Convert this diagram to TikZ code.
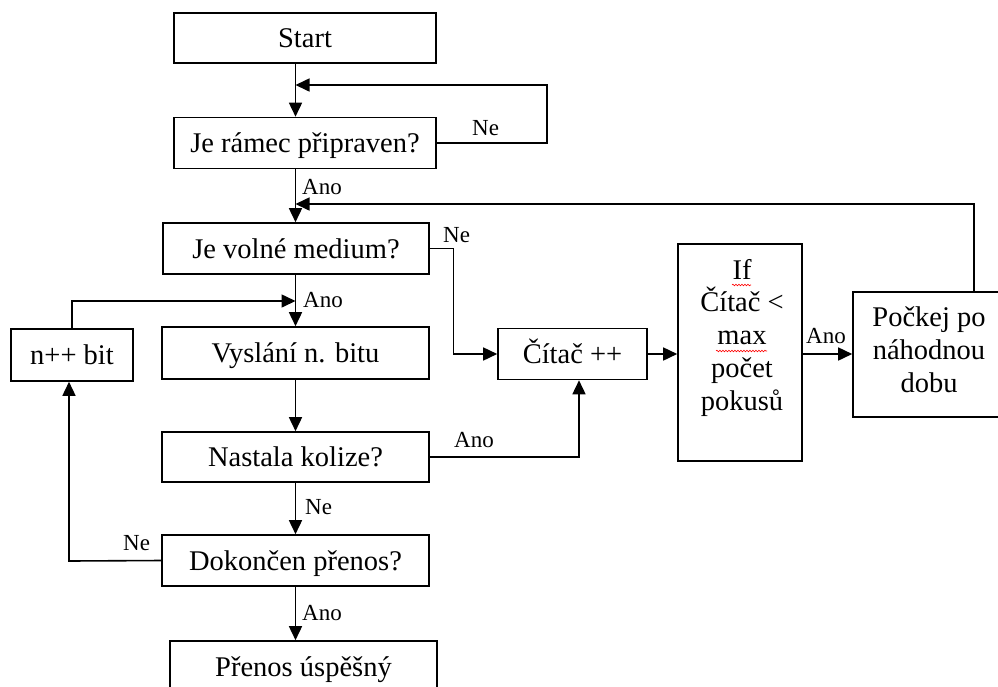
\documentclass[tikz,border=0pt]{standalone}
\usepackage{fontspec}
\setmainfont{Liberation Serif}
\usetikzlibrary{arrows.meta,decorations.pathmorphing}
\newcommand{\boxfont}{\fontsize{28.5}{32.75}\selectfont}
\newcommand{\labfont}{\fontsize{23}{27}\selectfont}
\begin{document}
\begin{tikzpicture}[x=1pt,y=-1pt,
  box/.style={draw, line width=1.6pt, rectangle, inner sep=0pt, font=\boxfont, text height=24.2pt, text depth=5.2pt},
  txt/.style={font=\boxfont, align=center, inner sep=0pt, anchor=base},
  arr/.style={line width=1.6pt, -{Triangle[length=14pt,width=13pt]}},
  lab/.style={font=\labfont, inner sep=0pt, anchor=west},
  squig/.style={red, line width=0.6pt, decorate, decoration={snake, amplitude=0.8pt, segment length=3pt}}]
\fill[white] (0,0) rectangle (998,686);
\useasboundingbox (0,0) rectangle (998,686);
% boxes
\node[box, minimum width=262pt, minimum height=50pt] (start) at (305,38) {Start};
\node[box, minimum width=262pt, minimum height=51pt] (ramec) at (305,143) {Je rámec připraven?};
\node[box, minimum width=266pt, minimum height=51pt] (medium) at (296,248.5) {Je volné medium?};
\node[box, minimum width=267pt, minimum height=52pt] (vyslani) at (295.5,353) {Vyslání n. bitu};
\node[box, minimum width=267pt, minimum height=50pt] (kolize) at (295.5,457) {Nastala kolize?};
\node[box, minimum width=267pt, minimum height=51pt] (dokoncen) at (295.5,560.5) {Dokončen přenos?};
\node[box, minimum width=267pt, minimum height=51pt] (prenos) at (303.5,666.5) {Přenos úspěšný};
\node[box, minimum width=122pt, minimum height=52pt] (nbit) at (72,355) {n++ bit};
\node[box, minimum width=149pt, minimum height=51pt] (citac) at (572.5,354) {Čítač ++};
\node[box, minimum width=124pt, minimum height=217pt] (ifbox) at (740,352.5) {};
\node[box, minimum width=152pt, minimum height=125pt] (pockej) at (929,354.5) {};
\node[txt] (iftext) at (742,410) {If\\Čítač <\\max\\počet\\pokusů};
\node[txt] (pocktext) at (929,392) {Počkej po\\náhodnou\\dobu};
% spell-check marks
\draw[squig] (732,285) -- (751,285);
\draw[squig] (716,351) -- (767,351);
% labels
\node[lab] (l1) at (472,128) {Ne};
\node[lab] (l2) at (302,187) {Ano};
\node[lab] (l3) at (443,235) {Ne};
\node[lab] (l4) at (303,300) {Ano};
\node[lab] (l5) at (454,440) {Ano};
\node[lab] (l6) at (806,336) {Ano};
\node[lab] (l7) at (305,507) {Ne};
\node[lab] (l8) at (123,543) {Ne};
\node[lab] (l9) at (302,613) {Ano};
% connectors
\coordinate (col) at (295.5,0);
\draw[arr] (start.south -| col) -- (ramec.north -| col);
\coordinate (loopR) at (547,85);
\draw[arr] (ramec.east) -| (loopR) -- (loopR -| col);
\draw[arr] (ramec.south -| col) -- (medium.north -| col);
\coordinate (topR) at (974,204);
\draw[arr] (pockej.north -| topR) -- (topR) -- (topR -| col);
\draw[arr] (medium.south -| col) -- (vyslani.north -| col);
\coordinate (j1) at (295.5,301);
\draw[arr] (nbit.north) |- (j1);
\coordinate (ne1) at (453.5,248.5);
\draw[arr] (medium.east) -- (ne1) |- (citac.west);
\draw[arr] (vyslani.south -| col) -- (kolize.north -| col);
\coordinate (k1) at (579,457);
\draw[arr] (kolize.east) -- (k1) -- (k1 |- citac.south);
\draw[arr] (citac.east) -- (citac.east -| ifbox.west);
\draw[arr] (ifbox.east |- citac.east) -- (citac.east -| pockej.west);
\draw[arr] (kolize.south -| col) -- (dokoncen.north -| col);
\coordinate (d1) at (69,561);
\draw[arr] (dokoncen.west) -- (d1) -- (d1 |- nbit.south);
\draw[arr] (dokoncen.south -| col) -- (prenos.north -| col);
\end{tikzpicture}
\end{document}
